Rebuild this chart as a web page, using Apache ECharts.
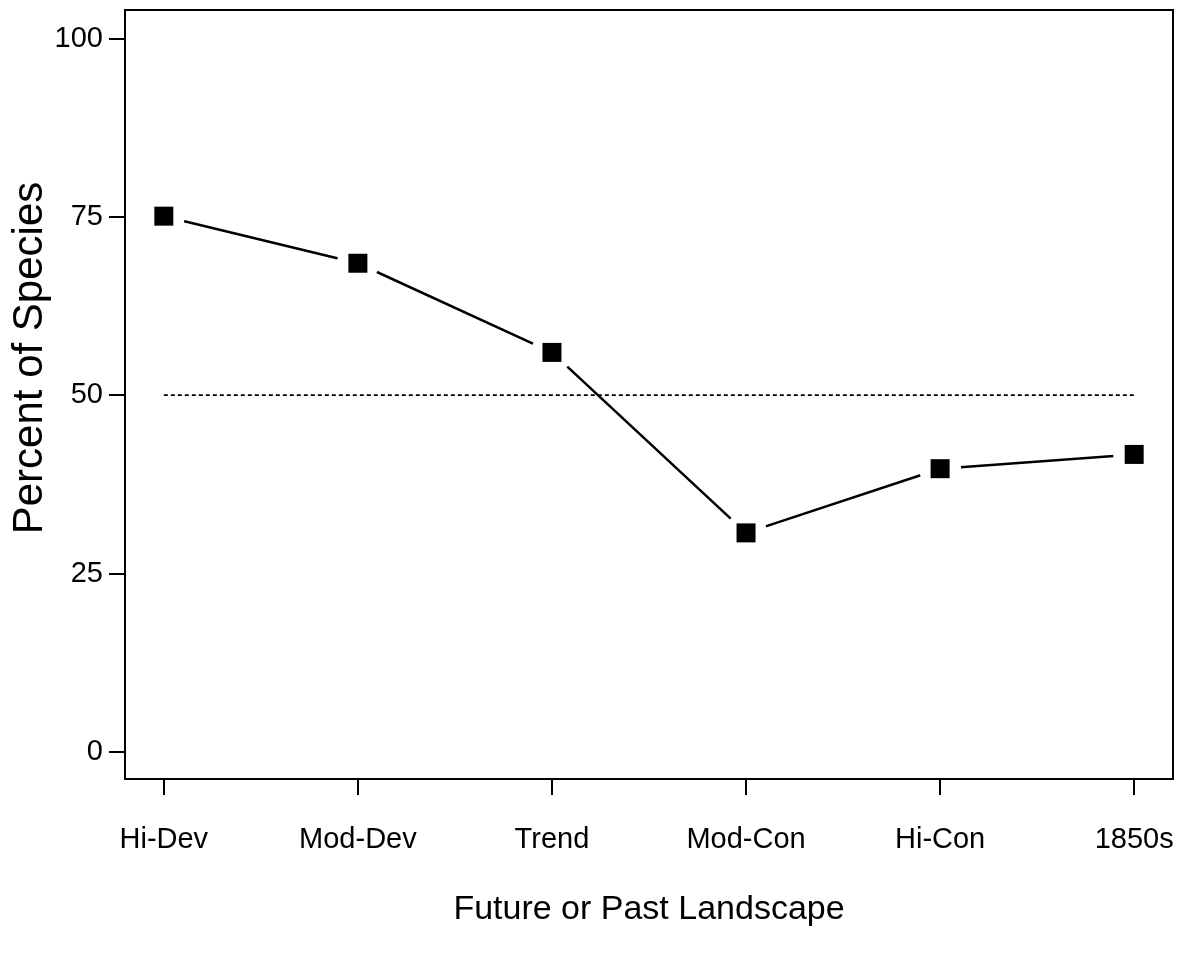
<!DOCTYPE html>
<html>
<head>
<meta charset="utf-8">
<script src="https://cdn.jsdelivr.net/npm/echarts@6/dist/echarts.min.js"></script>
<style>
  html, body { margin: 0; padding: 0; background: #fff; }
  #chart { width: 1183px; height: 953px; }
</style>
</head>
<body>
<div id="chart"></div>
<script>
const categories = ['Hi-Dev', 'Mod-Dev', 'Trend', 'Mod-Con', 'Hi-Con', '1850s'];
const percentSpecies = [75.1, 68.5, 56.0, 30.7, 39.7, 41.7];
const yTickValues = [0, 25, 50, 75, 100];
const referenceLevel = 50;
const xTitle = 'Future or Past Landscape';
const yTitle = 'Percent of Species';

const FONT = "'Liberation Sans', Arial, Helvetica, sans-serif";
const xIdx = categories.map((c, i) => i);
const points = percentSpecies.map((v, i) => [xIdx[i], v]);
const refLine = [[xIdx[0], referenceLevel], [xIdx[xIdx.length - 1], referenceLevel]];

const chart = echarts.init(document.getElementById('chart'), null, { renderer: 'canvas' });
chart.setOption({
  animation: false,
  backgroundColor: '#fff',
  grid: {
    left: 125, top: 10, right: 10, bottom: 174,
    show: true, borderColor: '#000', borderWidth: 2, backgroundColor: 'transparent'
  },
  xAxis: {
    type: 'value',
    min: -0.2, max: 5.2,
    axisLine: { show: false, onZero: false },
    splitLine: { show: false },
    axisTick: { show: true, inside: false, length: 16, customValues: xIdx, lineStyle: { color: '#000', width: 2 } },
    axisLabel: {
      customValues: xIdx,
      formatter: v => categories[Math.round(v)],
      margin: 46, color: '#000', fontSize: 29, fontFamily: FONT
    },
    name: xTitle,
    nameLocation: 'middle',
    nameGap: 114,
    nameTextStyle: { color: '#000', fontSize: 34, fontFamily: FONT }
  },
  yAxis: {
    type: 'value',
    min: -3.8, max: 104,
    axisLine: { show: false, onZero: false },
    splitLine: { show: false },
    axisTick: { show: true, inside: false, length: 16, customValues: yTickValues, lineStyle: { color: '#000', width: 2 } },
    axisLabel: { customValues: yTickValues, margin: 22, color: '#000', fontSize: 29, fontFamily: FONT }
  },
  graphic: [{
    type: 'text',
    x: 30, y: 358,
    rotation: Math.PI / 2,
    style: {
      text: yTitle, x: 0, y: 0,
      font: '42px ' + FONT, fill: '#000',
      textAlign: 'center', textVerticalAlign: 'middle',
      align: 'center', verticalAlign: 'middle'
    }
  }],
  series: [
    {
      type: 'line', data: refLine, symbol: 'none', silent: true, z: 2,
      lineStyle: { color: '#000', width: 1.8, type: [4, 3] }
    },
    {
      type: 'line', data: points, symbol: 'circle', symbolSize: 42, showAllSymbol: true, silent: true, z: 3,
      itemStyle: { color: '#fff', borderWidth: 0 },
      lineStyle: { color: '#000', width: 2.5 }
    },
    {
      type: 'scatter', data: points, symbol: 'rect', symbolSize: 19, silent: true, z: 10,
      itemStyle: { color: '#000', opacity: 1 }
    }
  ]
});
</script>
</body>
</html>
